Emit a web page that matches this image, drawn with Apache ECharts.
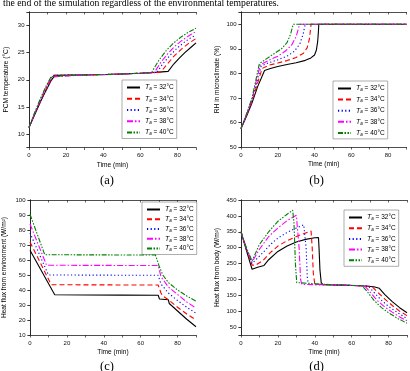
<!DOCTYPE html>
<html><head><meta charset="utf-8">
<script src="https://cdn.jsdelivr.net/npm/echarts/dist/echarts.min.js"></script>
<style>html,body{margin:0;padding:0;background:#fff}#c{width:410px;height:371px}</style>
</head><body><div id="c"></div><script>
// ---- data (time in min, value) ----
const seriesNames = ['32', '34', '36', '38', '40'];
// (a) PCM temperature (°C)
const pcm32 = [[0,11.2],[3,13.5],[6,15.8],[9,17.9],[12,19.9],[14,20.8],[30,20.9],[45,21.0],[60,21.2],[70,21.4],[75,21.55],[78,22.9],[81,24.0],[84,25.0],[87,25.9],[90,26.8]];
const pcm34 = [[0,11.2],[3,13.6],[6,15.9],[9,18.1],[12,20.1],[13.5,20.8],[30,20.9],[45,21.0],[60,21.2],[71,21.4],[74,22.7],[78,24.3],[82,25.6],[86,26.7],[90,27.6]];
const pcm36 = [[0,11.2],[3,13.7],[6,16.0],[9,18.3],[12,20.3],[13,20.8],[30,20.9],[45,21.0],[60,21.2],[69,21.35],[72,22.9],[76,24.5],[80,25.9],[84,27.0],[87,27.7],[90,28.2]];
const pcm38 = [[0,11.2],[3,13.8],[6,16.2],[9,18.5],[12,20.5],[12.7,20.8],[30,20.9],[45,21.0],[60,21.2],[67.5,21.3],[71,23.2],[75,24.9],[79,26.3],[83,27.4],[87,28.3],[90,28.9]];
const pcm40 = [[0,11.2],[3,13.9],[6,16.4],[9,18.7],[12,20.6],[12.3,20.8],[30,20.9],[45,21.0],[60,21.2],[66,21.3],[70,23.6],[74,25.4],[78,26.8],[82,27.9],[86,28.8],[90,29.5]];
// (b) RH in microclimate (%)
const rh32 = [[0,57.5],[3,62.5],[6,68],[9,74.5],[12.8,81.2],[16,82],[20,82.8],[25,83.6],[30,84.3],[35,85.3],[38,86.3],[40,87.5],[41,89.5],[41.7,93],[42.1,97],[42.3,100],[90,100]];
const rh34 = [[0,57.5],[3,62.8],[6,68.5],[9,76],[11.5,82],[15,83.3],[20,84.2],[25,85.2],[30,86.5],[34,88.2],[36,90.5],[37.2,94],[37.8,98],[38.1,100],[90,100]];
const rh36 = [[0,57.5],[3,63],[6,69],[9,77.5],[11,83],[15,84.3],[20,85.5],[25,87],[29,89],[32,92],[33.8,96],[34.6,99],[35,100],[90,100]];
const rh38 = [[0,57.5],[3,63.2],[6,69.5],[9,79],[10.5,83.5],[15,85.3],[20,87],[24,89],[27.5,91.5],[30,95],[31.3,98.5],[32,100],[90,100]];
const rh40 = [[0,57.5],[3,63.5],[6,70],[9,80.5],[10,84],[14,86],[18,88],[22,90],[25,92.5],[27,96],[28,99],[28.5,100],[90,100]];
// (c) Heat flux from environment (W/m2)
const env32 = [[0,66.5],[13.4,36.8],[30,36.7],[50,36.6],[69.5,36.5],[70.2,34],[75,33.5],[75.5,31],[80,26],[85,20.5],[90,15.5]];
const env34 = [[0,72],[11.5,43.5],[40,43.4],[69.5,43.3],[71,38],[72,36],[75,33.5],[80,28.5],[85,24],[90,20]];
const env36 = [[0,78],[10,50],[40,49.9],[69.5,49.8],[71,44],[75,38],[80,33],[85,28.5],[90,24.5]];
const env38 = [[0,84],[9,56.5],[40,56.4],[69.5,56.3],[71,49],[75,42],[80,37],[85,32],[90,28]];
const env40 = [[0,90.5],[8,63.5],[40,63.4],[68,63.3],[70,56],[72,50],[75,45],[80,40],[85,36],[90,32.5]];
// (d) Heat flux from body (W/m2)
const body32 = [[0,350],[3,290],[6,232],[9,238],[12.5,244],[15,262],[20,288],[25,305],[30,318],[35,326],[40,331],[42,332],[42.3,300],[42.8,230],[43.5,190],[44.5,183],[55,182],[65,180],[72,177],[75,172],[78,152],[82,130],[86,111],[90,95]];
const body34 = [[0,350],[3,293],[6,245],[8,245],[12,260],[16,285],[20,305],[25,322],[30,335],[35,346],[38,352],[38.6,300],[39.2,220],[40,185],[50,183],[60,181],[71,178],[74,160],[78,138],[82,118],[86,100],[90,86]];
const body36 = [[0,350],[3,295],[6,250],[7,250],[12,285],[16,310],[20,330],[25,348],[30,362],[34,372],[34.7,375],[35.3,300],[36,200],[36.8,184],[50,183],[60,181],[69,179],[72,160],[76,135],[80,115],[85,95],[90,77]];
const body38 = [[0,350],[3,297],[6,255],[10,295],[15,335],[20,362],[25,385],[30,402],[30.7,405],[31.5,300],[32.3,200],[33,184],[50,183],[60,181],[67,180],[70,160],[74,133],[78,113],[82,97],[86,82],[90,70]];
const body40 = [[0,350],[3,298],[6,258],[10,310],[15,350],[20,383],[25,405],[28,418],[28.7,380],[29.5,250],[30.2,190],[31,184],[50,183],[60,181],[65.5,181],[68,165],[72,135],[76,112],[80,95],[85,77],[90,62]];

// ---- styling / layout ----
const SANS = 'Liberation Sans';
const SERIF = 'Liberation Serif';
const styles = [
  {color:'#000000', type:'solid'},
  {color:'#ff0000', type:[5,3]},
  {color:'#0000ff', type:[1.2,2.4]},
  {color:'#ff00ff', type:[6,2,1.5,2]},
  {color:'#008000', type:[5,1.5,1.5,1.5,1.5,1.5]}
];
const panels = [
  {grid:{left:29, top:12, width:167, height:135.5}, yMin:7.5, yMax:32.5, yStep:5, yName:'PCM temperature (°C)', yGap:19.5,
   data:[pcm32,pcm34,pcm36,pcm38,pcm40], lg:{left:122, top:80, gap:3.25}},
  {grid:{left:241, top:12, width:165.5, height:135}, yMin:50, yMax:105, yStep:10, yName:'RH in microclimate (%)', yGap:20.5,
   data:[rh32,rh34,rh36,rh38,rh40], lg:{left:333, top:81, gap:3.1}},
  {grid:{left:30, top:200, width:166, height:135}, yMin:10, yMax:100, yStep:10, yName:'Heat flux from environment (W/m²)', yGap:22,
   data:[env32,env34,env36,env38,env40], lg:{left:142, top:202, gap:1.75}},
  {grid:{left:241, top:200, width:166, height:135}, yMin:25, yMax:450, yStep:50, yName:'Heat flux from body (W/m²)', yGap:20.5,
   data:[body32,body34,body36,body38,body40], lg:{left:344, top:210, gap:2.7}}
];
const AX = '#222';
const grids = [], xAxes = [], yAxes = [], series = [], legends = [];
panels.forEach((p, i) => {
  grids.push(p.grid);
  xAxes.push({type:'value', gridIndex:i, min:0, max:90, interval:10, position:'bottom',
    name:'Time (min)', nameLocation:'middle', nameGap:14,
    nameTextStyle:{fontFamily:SANS, fontSize:6.6, color:'#000'},
    axisLine:{lineStyle:{color:AX, width:0.8}}, splitLine:{show:false},
    axisTick:{inside:false, length:2.5, lineStyle:{color:AX, width:0.7}},
    axisLabel:{fontFamily:SANS, fontSize:6, color:'#111', margin:5, formatter:v => v % 20 === 0 ? String(v) : ''}});
  yAxes.push({type:'value', gridIndex:i, min:p.yMin, max:p.yMax, minInterval:p.yStep, maxInterval:p.yStep, position:'left',
    name:p.yName, nameLocation:'middle', nameGap:p.yGap, nameRotate:90,
    nameTextStyle:{fontFamily:SANS, fontSize:6.6, color:'#000'},
    axisLine:{show:true, lineStyle:{color:AX, width:0.8}}, splitLine:{show:false},
    axisTick:{show:true, inside:false, length:2.5, lineStyle:{color:AX, width:0.7}},
    axisLabel:{fontFamily:SANS, fontSize:6, color:'#111', margin:4.5, formatter:v => (Math.abs(v % p.yStep) < 1e-9) ? String(v) : ''}});
});
panels.forEach((p, i) => {
  xAxes.push({type:'value', gridIndex:i, min:0, max:90, interval:10, position:'top',
    axisLine:{lineStyle:{color:AX, width:0.8}}, splitLine:{show:false},
    axisTick:{inside:true, length:2.5, lineStyle:{color:AX, width:0.7}}, axisLabel:{show:false}});
  yAxes.push({type:'value', gridIndex:i, min:p.yMin, max:p.yMax, minInterval:p.yStep, maxInterval:p.yStep, position:'right',
    axisLine:{show:true, lineStyle:{color:AX, width:0.8}}, splitLine:{show:false},
    axisTick:{show:true, inside:true, length:2.5, lineStyle:{color:AX, width:0.7}}, axisLabel:{show:false}});
  p.data.forEach((d, k) => {
    series.push({type:'line', name:seriesNames[k], xAxisIndex:i, yAxisIndex:i, data:d, symbol:'none', smooth:false,
      lineStyle:{color:styles[k].color, width:1.1, type:styles[k].type}, itemStyle:{color:styles[k].color},
      emphasis:{disabled:true}, z:2+k});
  });
  legends.push({orient:'vertical', left:p.lg.left, top:p.lg.top, data:seriesNames, selectedMode:false,
    itemWidth:13, itemHeight:6, itemGap:p.lg.gap, padding:[3.5,3,2,4],
    borderColor:'#777', borderWidth:0.6, backgroundColor:'#fff',
    itemStyle:{opacity:0},
    formatter:n => '{i|T}{s|a}{n| = ' + n + '°C}',
    textStyle:{fontFamily:SANS, fontSize:6.5, color:'#000', lineHeight:8,
      rich:{i:{fontFamily:SANS, fontStyle:'italic', fontSize:7, lineHeight:8},
            s:{fontFamily:SANS, fontStyle:'italic', fontSize:4.5, padding:[3,0,0,0]},
            n:{fontFamily:SANS, fontSize:6.5, lineHeight:8}}}});
});

const capStyle = (t, x, y, size) => ({type:'text', x:x, y:y, silent:true,
  style:{text:t, font:size + 'px "' + SERIF + '"', fill:'#000', align:'center', verticalAlign:'middle', textAlign:'center', textVerticalAlign:'middle'}});
const graphics = [
  {type:'text', x:3, y:8, silent:true, style:{text:'the end of the simulation regardless of the environmental temperatures.',
    font:'9.7px "' + SERIF + '"', fill:'#000', align:'left', verticalAlign:'bottom', textAlign:'left', textVerticalAlign:'bottom'}},
  capStyle('(a)', 107, 180.5, 12.5), capStyle('(b)', 316.5, 180.5, 12.5),
  capStyle('(c)', 107, 366.5, 12.5), capStyle('(d)', 316.5, 366.5, 12.5)
];

const chart = echarts.init(document.getElementById('c'), null, {renderer:'canvas'});
chart.setOption({animation:false, backgroundColor:'#fff', grid:grids, xAxis:xAxes, yAxis:yAxes, series:series, legend:legends, graphic:graphics});
</script></body></html>
